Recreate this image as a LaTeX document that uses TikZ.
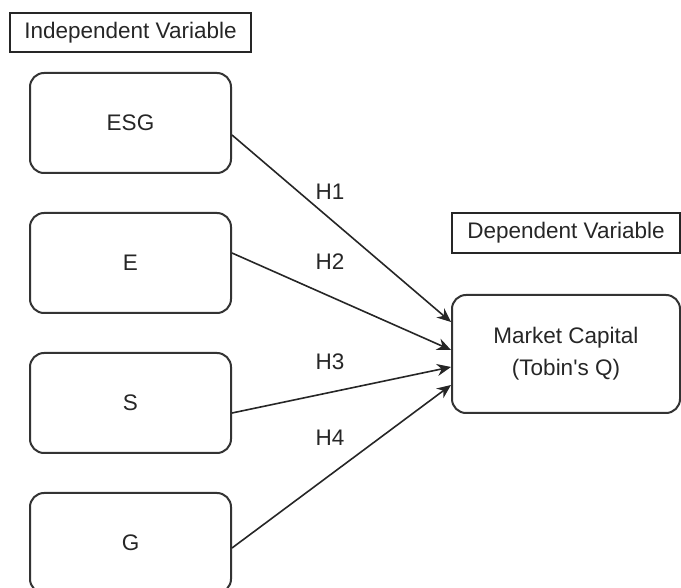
\documentclass[tikz,border=0pt]{standalone}
\usepackage{fontspec}
\setmainfont{Liberation Sans}
\usetikzlibrary{arrows.meta}

\tikzset{
  varbox/.style={draw=black!80, line width=1pt, rounded corners=7pt,
    minimum width=100.5pt, minimum height=50pt, inner sep=0pt,
    text=black!85, align=center, font=\fontsize{11.25}{16}\selectfont},
  headbox/.style={draw=black!85, line width=0.8pt, inner sep=0pt,
    text=black!85, font=\fontsize{11.25}{14}\selectfont},
  hyp/.style={-{Stealth[length=7pt,width=6pt]}, line width=0.8pt, draw=black!85},
  hyplabel/.style={text=black!85, font=\fontsize{11.25}{14}\selectfont}
}

\begin{document}
\begin{tikzpicture}[x=0.5pt, y=-0.5pt]
        \useasboundingbox (0,0) rectangle (681,588);

        % Independent variables
        \node[headbox, minimum width=120.5pt, minimum height=19.5pt] (indep) at (130.5,32.5) {Independent Variable};
        \node[varbox] (esg) at (130.5,123) {ESG};
        \node[varbox] (e) at (130.5,263) {E};
        \node[varbox] (s) at (130.5,403) {S};
        \node[varbox] (g) at (130.5,543) {G};

        % Dependent variable
        \node[headbox, minimum width=114pt, minimum height=20pt] (dep) at (566,233) {Dependent Variable};
        \node[varbox, minimum width=114pt, minimum height=59pt] (mc) at (566,354) {Market Capital\\(Tobin\textquotesingle s Q)};

        % Hypotheses
        \draw[hyp] ([yshift=-6pt]esg.east) -- ([yshift=16pt]mc.west);
        \draw[hyp] ([yshift=5pt]e.east) -- ([yshift=2pt]mc.west);
        \draw[hyp] ([yshift=-5pt]s.east) -- ([yshift=-6.5pt]mc.west);
        \draw[hyp] ([yshift=-2.5pt]g.east) -- ([yshift=-15.5pt]mc.west);

        \node[hyplabel] (h1) at (330,192) {H1};
        \node[hyplabel] (h2) at (330,262) {H2};
        \node[hyplabel] (h3) at (330,362) {H3};
        \node[hyplabel] (h4) at (330,438) {H4};
    \end{tikzpicture}
\end{document}
